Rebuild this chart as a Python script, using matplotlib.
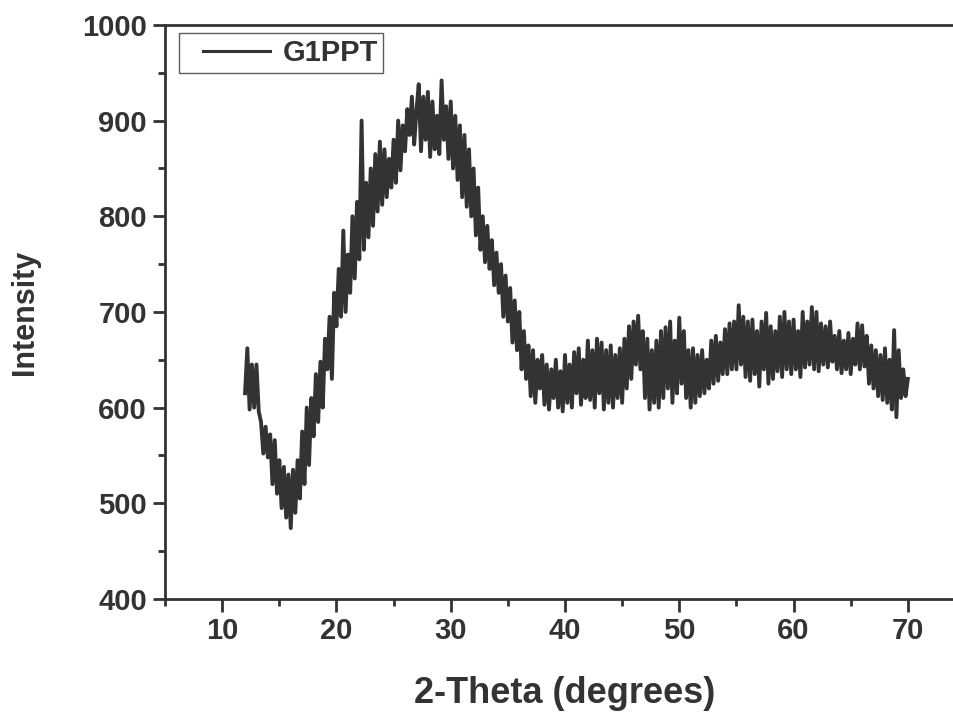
import numpy as np
import matplotlib
matplotlib.use('Agg')
import matplotlib.pyplot as plt
from matplotlib.legend_handler import HandlerLine2D

# 2-theta sampling: 12.0 to 70.0 deg, step 0.2
THETA_START = 12.0
THETA_STOP = 70.0
# intensity, 5 points per degree
INTENSITY = [
    615, 662, 598, 645, 600,   # 12
    645, 596, 585, 552, 580,   # 13
    548, 572, 520, 566, 510,   # 14
    545, 495, 538, 485, 530,   # 15
    474, 535, 490, 545, 505,   # 16
    575, 520, 600, 540, 610,   # 17
    570, 635, 585, 648, 600,   # 18
    672, 640, 695, 630, 720,   # 19
    685, 745, 695, 785, 700,   # 20
    760, 720, 800, 735, 815,   # 21
    755, 900, 765, 835, 778,   # 22
    850, 790, 865, 805, 878,   # 23
    812, 870, 820, 860, 830,   # 24
    880, 835, 900, 848, 895,   # 25
    868, 912, 885, 925, 875,   # 26
    910, 938, 868, 925, 880,   # 27
    930, 862, 920, 870, 905,   # 28
    865, 942, 880, 915, 860,   # 29
    920, 850, 905, 838, 895,   # 30
    820, 885, 810, 870, 800,   # 31
    850, 780, 830, 765, 800,   # 32
    752, 790, 745, 775, 728,   # 33
    762, 720, 750, 695, 738,   # 34
    690, 725, 668, 712, 660,   # 35
    700, 640, 680, 630, 665,   # 36
    612, 660, 605, 650, 620,   # 37
    655, 603, 645, 598, 640,   # 38
    610, 650, 600, 638, 596,   # 39
    655, 605, 645, 600, 658,   # 40
    615, 662, 603, 650, 610,   # 41
    670, 608, 660, 600, 672,   # 42
    615, 668, 598, 660, 605,   # 43
    665, 600, 655, 610, 662,   # 44
    605, 672, 620, 685, 630,   # 45
    690, 645, 696, 640, 680,   # 46
    610, 672, 598, 660, 605,   # 47
    670, 600, 680, 610, 684,   # 48
    620, 690, 605, 670, 615,   # 49
    694, 625, 680, 610, 660,   # 50
    600, 662, 605, 655, 612,   # 51
    660, 615, 650, 620, 670,   # 52
    625, 675, 628, 668, 635,   # 53
    682, 635, 688, 640, 690,   # 54
    640, 707, 645, 695, 632,   # 55
    690, 628, 692, 635, 680,   # 56
    622, 690, 640, 699, 625,   # 57
    685, 630, 680, 638, 695,   # 58
    632, 700, 640, 690, 635,   # 59
    692, 640, 680, 632, 700,   # 60
    642, 690, 645, 705, 640,   # 61
    700, 638, 688, 645, 685,   # 62
    642, 690, 648, 675, 640,   # 63
    680, 636, 670, 640, 678,   # 64
    635, 672, 645, 688, 640,   # 65
    686, 643, 675, 625, 665,   # 66
    620, 660, 612, 655, 608,   # 67
    662, 605, 650, 598, 681,   # 68
    590, 660, 610, 640, 612,   # 69
    630,                       # 70
]
SERIES_LABEL = 'G1PPT'
X_LABEL = '2-Theta (degrees)'
Y_LABEL = 'Intensity'
X_TICKS = [10, 20, 30, 40, 50, 60, 70]
Y_TICKS = [400, 500, 600, 700, 800, 900, 1000]

INK = '#333333'


def plotPattern():
    plt.rcParams['font.family'] = ['Liberation Sans', 'DejaVu Sans']
    plt.rcParams['font.weight'] = 'bold'

    theta = np.linspace(THETA_START, THETA_STOP, len(INTENSITY))

    fig = plt.figure(figsize=(9.54, 7.13), dpi=100)
    ax = fig.add_axes([0.173, 0.160, 0.8385, 0.805])

    line, = ax.plot(theta, INTENSITY, color=INK, linewidth=2.8, label=SERIES_LABEL)

    ax.set_xlim(5, 75)
    ax.set_ylim(400, 1000)
    ax.set_xticks(X_TICKS)
    ax.set_yticks(Y_TICKS)
    ax.set_xticks(np.arange(5, 75, 5), minor=True)
    ax.set_yticks(np.arange(400, 1000, 50), minor=True)

    for side in ['left', 'bottom', 'top', 'right']:
        ax.spines[side].set_linewidth(2.0)
        ax.spines[side].set_color(INK)
    ax.tick_params(which='major', direction='out', length=9, width=2.0,
                   color=INK, labelsize=21, labelcolor=INK, pad=4)
    ax.tick_params(which='minor', direction='out', length=5, width=2.0,
                   color=INK)

    ax.set_xlabel(X_LABEL, fontsize=26, fontweight='bold', color=INK, labelpad=22)
    ax.set_ylabel(Y_LABEL, fontsize=22, fontweight='bold', color=INK, labelpad=30)

    leg = ax.legend(loc='upper left', bbox_to_anchor=(0.0175, 0.986),
                    borderaxespad=0.0, fancybox=False, handlelength=2.93,
                    handletextpad=0.41, borderpad=0.2,
                    handler_map={line: HandlerLine2D(xpad=0.62)},
                    prop={'size': 21, 'weight': 'bold'})
    leg.get_frame().set_edgecolor(INK)
    leg.get_frame().set_linewidth(1.0)
    for lg in leg.get_lines():
        lg.set_linewidth(2.2)
    for text in leg.get_texts():
        text.set_color(INK)

    fig.savefig('out.png', dpi=100)


if __name__ == '__main__':
    plotPattern()
